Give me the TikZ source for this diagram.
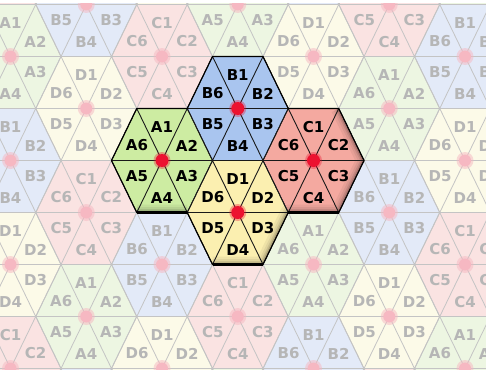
\documentclass[tikz,border=0pt]{standalone}
\usepackage{fontspec}
\setmainfont{DejaVu Sans}
\usetikzlibrary{calc}
\definecolor{fgA}{HTML}{CDECA2}
\definecolor{fgB}{HTML}{A9C5EF}
\definecolor{fgC}{HTML}{F4A9A0}
\definecolor{fgD}{HTML}{FBEFB0}
\definecolor{bgA}{HTML}{EDF6E2}
\definecolor{bgB}{HTML}{E3EAF8}
\definecolor{bgC}{HTML}{FAE3E2}
\definecolor{bgD}{HTML}{FCFAE8}
\definecolor{bgline}{HTML}{C4C4C4}
\definecolor{bgtext}{HTML}{B6B6B6}
\definecolor{bgdot}{HTML}{F6B8C2}
\definecolor{fgdot}{HTML}{EC1230}
\def\S{50.5}
\def\H{52}
\def\hexpath{(\S,0) -- (\S/2,-\H) -- (-\S/2,-\H) -- (-\S,0) -- (-\S/2,\H) -- (\S/2,\H) -- cycle}
\def\spokes{(-\S,0) -- (\S,0) (-\S/2,-\H) -- (\S/2,\H) (\S/2,-\H) -- (-\S/2,\H)}
\tikzset{
  labfont/.style={font=\fontsize{15}{15}\selectfont\bfseries, inner sep=0pt},
  bglab/.style={labfont, text=bgtext},
  fglab/.style={labfont, text=black},
  bgedge/.style={draw=bgline, line width=0.8pt},
  fgedge/.style={draw=black!90, line width=0.9pt},
}
\newcommand\hexsetup{%
  \pgfmathtruncatemacro\k{2*\j+mod(\i+10,2)}%
  \pgfmathsetmacro\cx{162+75.75*\i}%
  \pgfmathsetmacro\cy{160.5+52*\k}%
  \pgfmathtruncatemacro\m{mod(\k+3*\i+80,8)}%
  \edef\L{\ifcase\m\space A\or X\or B\or X\or D\or X\or C\fi}%
}
\begin{document}
\begin{tikzpicture}[x=1pt,y=-1pt]
\useasboundingbox (0,0) rectangle (486,369);
\fill[white] (0,0) rectangle (486,369);
% ---------- faded background tiling ----------
\begin{scope}
\clip (0,4) rectangle (486,369);
\foreach \i in {-3,...,5}{\foreach \j in {-2,...,2}{\hexsetup
  \fill[bg\L, shift={(\cx,\cy)}] \hexpath;}}
\foreach \i in {-3,...,5}{\foreach \j in {-2,...,2}{\hexsetup
  \draw[bgedge, shift={(\cx,\cy)}] \hexpath \spokes;}}
\foreach \i in {-3,...,5}{\foreach \j in {-2,...,2}{\hexsetup
  \fill[bgdot, opacity=0.5] (\cx,\cy) circle (8.5);
  \fill[bgdot] (\cx,\cy) circle (6);
  \foreach \n/\dx/\dy in {1/0/-33, 2/25/-15, 3/25/16, 4/0/38, 5/-25/16, 6/-25/-15}
    \node[bglab] (bg-\i-\k-\n) at (\cx+\dx,\cy+\dy) {\L\n};
}}
\end{scope}
% ---------- highlighted hexagons ----------
\coordinate (cA) at (162,160.5);
\coordinate (cB) at (237.75,108.5);
\coordinate (cC) at (313.5,160.5);
\coordinate (cD) at (237.75,212.5);
\coordinate (u1) at (212.5,56.5);
\coordinate (u2) at (263,56.5);
\coordinate (u3) at (288.25,108.5);
\coordinate (u4) at (338.75,108.5);
\coordinate (u5) at (364,160.5);
\coordinate (u6) at (338.75,212.5);
\coordinate (u7) at (288.25,212.5);
\coordinate (u8) at (263,264.5);
\coordinate (u9) at (212.5,264.5);
\coordinate (u10) at (187.25,212.5);
\coordinate (u11) at (136.75,212.5);
\coordinate (u12) at (111.5,160.5);
\coordinate (u13) at (136.75,108.5);
\coordinate (u14) at (187.25,108.5);
\foreach \c in {A,B,C,D}{
  \fill[fg\c, shift={(c\c)}] \hexpath;
}
% inner shadow along lower right edges
\begin{scope}
\clip (u1)--(u2)--(u3)--(u4)--(u5)--(u6)--(u7)--(u8)--(u9)--(u10)--(u11)--(u12)--(u13)--(u14)--cycle;
\foreach \w/\o in {16/0.05, 11/0.06, 7/0.09, 4/0.14}
  \draw[black, line width=\w pt, opacity=\o, line join=round]
    (u4)--(u5)--(u6)--(u7)--(u8)--(u9) (u10)--(u11);
\end{scope}
\foreach \c in {A,B,C,D}{
  \draw[fgedge, shift={(c\c)}] \hexpath \spokes;
}
\draw[black, line width=1.1pt, line join=round]
  (u1)--(u2)--(u3)--(u4)--(u5)--(u6)--(u7)--(u8)--(u9)--(u10)--(u11)--(u12)--(u13)--(u14)--cycle;
\draw[black, line width=2.6pt] (u6)--(u7) (u8)--(u9) (u10)--(u11);
\foreach \c in {A,B,C,D}{
  \fill[fgdot, opacity=0.35] (c\c) circle (8.5);
  \fill[fgdot] (c\c) circle (6.5);
  \foreach \n/\dx/\dy in {1/0/-33, 2/25/-15, 3/25/16, 4/0/38, 5/-25/16, 6/-25/-15}
    \node[fglab] (\c\n) at ($(c\c)+(\dx,\dy)$) {\c\n};
}
\end{tikzpicture}
\end{document}
